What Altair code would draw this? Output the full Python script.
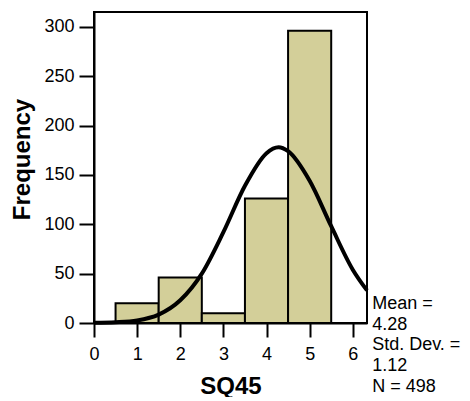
import altair as alt
import pandas as pd

# Histogram bins (SQ45) and frequencies
bin_start = [0.5, 1.5, 2.5, 3.5, 4.5]
bin_end = [1.5, 2.5, 3.5, 4.5, 5.5]
counts = [20, 46, 10, 126, 296]

# Normal curve
curve_x = [0, 0.5, 1, 1.5, 2, 2.5, 3, 3.5, 4, 4.28, 4.5, 5, 5.5, 6, 6.33]
curve_y = [0.2, 0.8, 2.6, 8.5, 23, 50, 92, 139, 172, 178, 174, 144, 98, 54, 33]

stats_lines = ["Mean =", "4.28", "Std. Dev. =", "1.12", "N = 498"]

x_ticks = [0, 1, 2, 3, 4, 5, 6]
y_ticks = [0, 50, 100, 150, 200, 250, 300]

FONT = "Liberation Sans"
FILL = "#d3cf99"

bars = pd.DataFrame({"start": bin_start, "end": bin_end, "count": counts})
curve = pd.DataFrame({"x": curve_x, "y": curve_y})

xs = alt.Scale(domain=[0, 6.33], nice=False, zero=False)
ys = alt.Scale(domain=[0, 315], nice=False)

x_axis = alt.Axis(
    values=x_ticks, grid=False, title="SQ45",
    domainColor="black", domainWidth=2, tickColor="black", tickWidth=2,
    tickSize=14, labelPadding=8, labelFontSize=18, labelFont=FONT,
    labelColor="black", labelFlush=False, labelOverlap=False,
    titleFont=FONT, titleFontSize=24, titleFontWeight="bold", titleColor="black",
    titleY=70, titleBaseline="alphabetic",
)
y_axis = alt.Axis(
    values=y_ticks, grid=False, title="Frequency",
    domainColor="black", domainWidth=2, tickColor="black", tickWidth=2,
    tickSize=15, labelPadding=5, labelFontSize=18, labelFont=FONT,
    labelColor="black", labelOverlap=False,
    titleFont=FONT, titleFontSize=24, titleFontWeight="bold", titleColor="black",
    titleX=-65, titleY=147, titleAlign="center", titleBaseline="alphabetic",
)

bar_layer = alt.Chart(bars).mark_rect(
    fill=FILL, stroke="black", strokeWidth=2
).encode(
    x=alt.X("start:Q", scale=xs, axis=x_axis),
    x2="end:Q",
    y=alt.Y("count:Q", scale=ys, axis=y_axis),
    y2=alt.datum(0),
)

line_layer = alt.Chart(curve).mark_line(
    color="black", strokeWidth=4, interpolate="monotone"
).encode(
    x=alt.X("x:Q", scale=xs),
    y=alt.Y("y:Q", scale=ys),
)

text_layer = alt.Chart(pd.DataFrame({"t": ["\n".join(stats_lines)]})).mark_text(
    align="left", baseline="alphabetic", fontSize=18, font=FONT,
    lineBreak="\n", lineHeight=20.6, color="black",
).encode(
    x=alt.datum(6.45, scale=xs),
    y=alt.datum(14, scale=ys),
    text="t:N",
)

chart = alt.layer(bar_layer, line_layer, text_layer).properties(
    width=273,
    height=311,
    autosize=alt.AutoSizeParams(type="none"),
    padding={"left": 86, "top": 4, "right": 94, "bottom": 74},
).configure_view(stroke="black", strokeWidth=2)

chart.save("out.html", embed_options={"renderer": "svg", "actions": False})
